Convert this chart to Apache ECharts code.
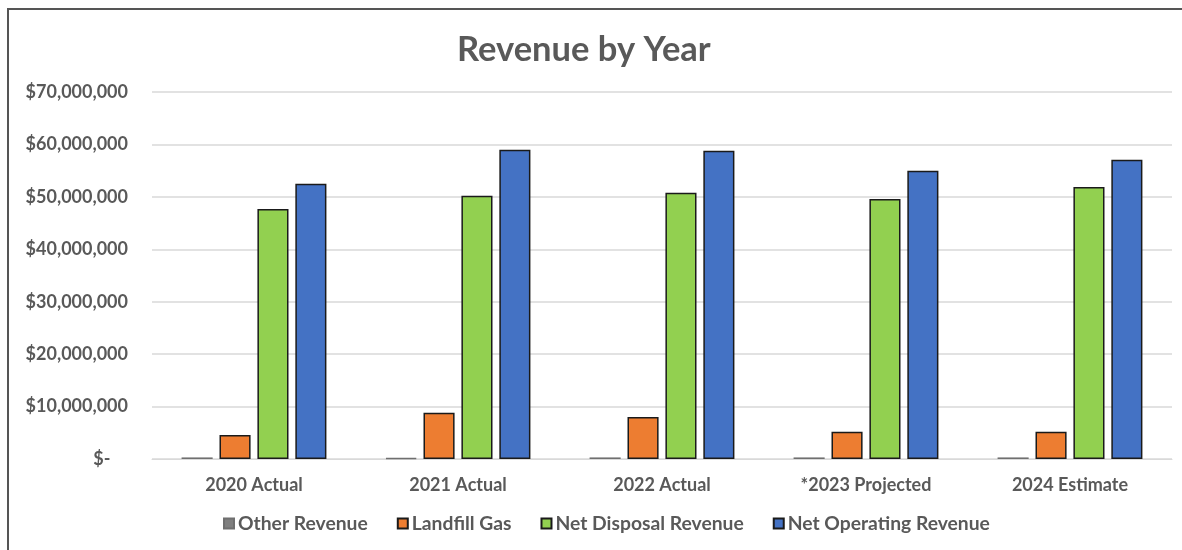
<!DOCTYPE html>
<html><head><meta charset="utf-8">
<script src="https://cdn.jsdelivr.net/npm/echarts@6/dist/echarts.min.js"></script>
<style>html,body{margin:0;padding:0;background:#fff}#c{width:1182px;height:550px}</style>
</head><body><div id="c"></div>
<script>
const categories = ['2020 Actual','2021 Actual','2022 Actual','*2023 Projected','2024 Estimate'];
const otherRevenue = [300000, 150000, 300000, 300000, 300000];
const landfillGas = [4600000, 8800000, 8000000, 5200000, 5200000];
const netDisposalRevenue = [47700000, 50200000, 50800000, 49600000, 51900000];
const netOperatingRevenue = [52500000, 59000000, 58800000, 55000000, 57100000];
const yTicks = [0, 10000000, 20000000, 30000000, 40000000, 50000000, 60000000, 70000000];

const font = 'Lato, "Open Sans", sans-serif';
const txt = '#595959';
function fmt(v){ return v === 0 ? '$-    ' : '$' + v.toLocaleString('en-US'); }
function s(name, data, color, border){
  return {name, type:'bar', data, barGap:'22%', barCategoryGap:'29%',
    itemStyle:{color, borderColor:border, borderWidth:1.5}};
}
const chart = echarts.init(document.getElementById('c'));
chart.setOption({
  animation:false,
  title:{text:'Revenue by Year', left:452, top:27,
    textStyle:{fontFamily:font, fontSize:34.5, fontWeight:'bold', color:txt}},
  graphic:[{type:'rect', shape:{x:8, y:9, width:1200, height:600},
    style:{fill:null, stroke:'#555', lineWidth:2}, z:-1}],
  legend:{bottom:12, left:218, itemWidth:10, itemHeight:10, itemGap:29,
    icon:'rect',
    textStyle:{fontFamily:font, fontSize:19.3, fontWeight:'bold', color:txt, padding:[0,0,0,-1]},
    data:['Other Revenue','Landfill Gas','Net Disposal Revenue','Net Operating Revenue']},
  grid:{left:152, right:10, top:92, bottom:91, containLabel:false},
  xAxis:{type:'category', data:categories,
    axisLine:{lineStyle:{color:'#d9d9d9'}}, axisTick:{show:false},
    axisLabel:{fontFamily:font, fontSize:18, fontWeight:'bold', color:txt, margin:17}},
  yAxis:{type:'value', min:0, max:70000000, interval:10000000,
    axisLine:{show:false}, axisTick:{show:false},
    splitLine:{lineStyle:{color:'#d9d9d9', width:1.5}},
    axisLabel:{fontFamily:font, fontSize:18, fontWeight:'bold', color:txt, margin:24,
      formatter:(v)=> yTicks.includes(v) ? fmt(v) : ''}},
  series:[
    s('Other Revenue', otherRevenue, '#7f7f7f', '#6f6f6f'),
    s('Landfill Gas', landfillGas, '#ED7D31', '#1a1a1a'),
    s('Net Disposal Revenue', netDisposalRevenue, '#92D050', '#1a1a1a'),
    s('Net Operating Revenue', netOperatingRevenue, '#4472C4', '#1a1a1a')
  ]
});
</script></body></html>
